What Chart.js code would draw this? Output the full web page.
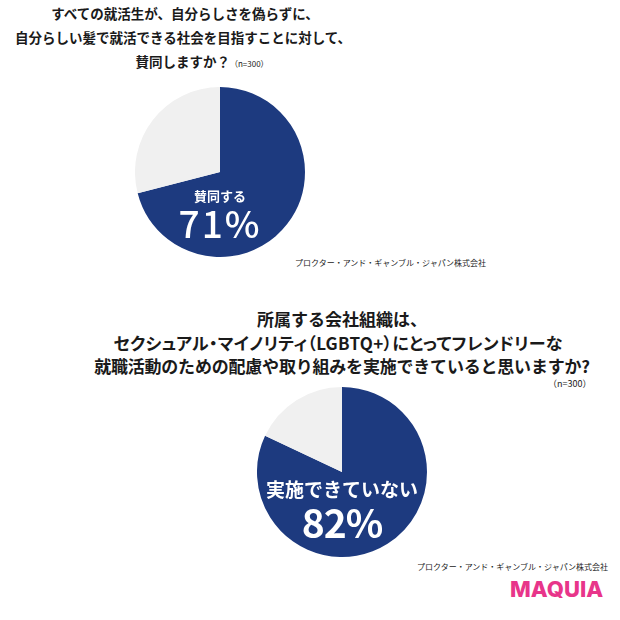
<!DOCTYPE html>
<html lang="ja">
<head>
<meta charset="utf-8">
<script src="https://cdn.jsdelivr.net/npm/chart.js@4/dist/chart.umd.min.js"></script>
<style>
  html, body { margin: 0; padding: 0; background: #fff; }
  body { width: 620px; height: 620px; position: relative; overflow: hidden;
         font-family: "Noto Sans CJK JP", "Noto Sans", sans-serif; color: #1a1a1a; }
  .line { position: absolute; white-space: nowrap; font-weight: bold; line-height: 1; transform: translate(-50%, -50%); }
  .t1 { font-size: 13.5px; }
  .t2 { font-size: 17px; }
  .n { font-size: 8px; font-weight: normal; }
  .src { position: absolute; font-size: 8px; line-height: 1; white-space: nowrap; color: #222; transform: translateY(-50%); }
  .logo { position: absolute; left: 510px; top: 589px; line-height: 1; transform: translateY(-50%);
          font-family: Inter, "Noto Sans", sans-serif; font-weight: 800; font-size: 22px; color: #e8358a; }
  canvas { position: absolute; }
</style>
</head>
<body>
<div class="line t1" style="left:185px; top:14px;">すべての就活生が、自分らしさを偽らずに、</div>
<div class="line t1" style="left:183px; top:38px;">自分らしい髪で就活できる社会を目指すことに対して、</div>
<div class="line t1" style="left:202px; top:62px;">賛同しますか？<span class="n">（n=300）</span></div>
<canvas id="pie1" width="170" height="170" style="left:135px; top:87px;"></canvas>
<div class="src" style="left:295px; top:263px;">プロクター・アンド・ギャンブル・ジャパン株式会社</div>

<div class="line t2" style="left:342px; top:318px;">所属する会社組織は、</div>
<div class="line t2" style="left:338px; top:342px; font-feature-settings:'palt'; letter-spacing:0.3px;">セクシュアル・マイノリティ（LGBTQ+）にとってフレンドリーな</div>
<div class="line t2" style="left:342px; top:365px; letter-spacing:-0.2px;">就職活動のための配慮や取り組みを実施できていると思いますか?</div>
<div class="src" style="left:548px; top:383px; font-size:9px;">（n=300）</div>
<canvas id="pie2" width="170" height="170" style="left:257px; top:387px;"></canvas>
<div class="src" style="left:417px; top:567px;">プロクター・アンド・ギャンブル・ジャパン株式会社</div>
<div class="logo">MAQUIA</div>

<script>
const labels1 = ["賛同する", "その他"];
const values1 = [71, 29];
const labels2 = ["実施できていない", "その他"];
const values2 = [82, 18];
const sliceColors = ["#1d3a7f", "#f0f0f0"];

// draws the first slice's label and percentage inside the pie
const centerLabel = {
    id: "centerLabel",
    afterDatasetsDraw(chart, args, opts) {
        const arc = chart.getDatasetMeta(0).data[0];
        const ctx = chart.ctx;
        const r = arc.outerRadius;
        ctx.save();
        ctx.fillStyle = "#fff";
        ctx.textAlign = "center";
        ctx.textBaseline = "middle";
        ctx.font = opts.labelFont;
        ctx.fillText(chart.data.labels[0], arc.x, arc.y + r * opts.labelOffset);
        ctx.font = opts.valueFont;
        ctx.letterSpacing = opts.valueSpacing || "0px";
        ctx.fillText(chart.data.datasets[0].data[0] + "%", arc.x, arc.y + r * opts.valueOffset);
        ctx.restore();
    }
};

function makePie(id, labels, values, labelOpts) {
    new Chart(document.getElementById(id).getContext("2d"), {
        type: "pie",
        data: {
            labels: labels,
            datasets: [{
                data: values,
                backgroundColor: sliceColors,
                borderWidth: 0
            }]
        },
        options: {
            responsive: false,
            animation: false,
            events: [],
            layout: { padding: 0 },
            plugins: {
                legend: { display: false },
                tooltip: { enabled: false },
                centerLabel: labelOpts
            }
        },
        plugins: [centerLabel]
    });
}

makePie("pie1", labels1, values1, {
    labelOffset: 0.28, valueOffset: 0.61,
    labelFont: "bold 13px 'Noto Sans CJK JP'",
    valueFont: "500 37px 'Noto Sans CJK JP'",
    valueSpacing: "2px"
});
makePie("pie2", labels2, values2, {
    labelOffset: 0.21, valueOffset: 0.6,
    labelFont: "bold 19px 'Noto Sans CJK JP'",
    valueFont: "bold 39px 'Noto Sans CJK JP'",
    valueSpacing: "-1px"
});
</script>
</body>
</html>
